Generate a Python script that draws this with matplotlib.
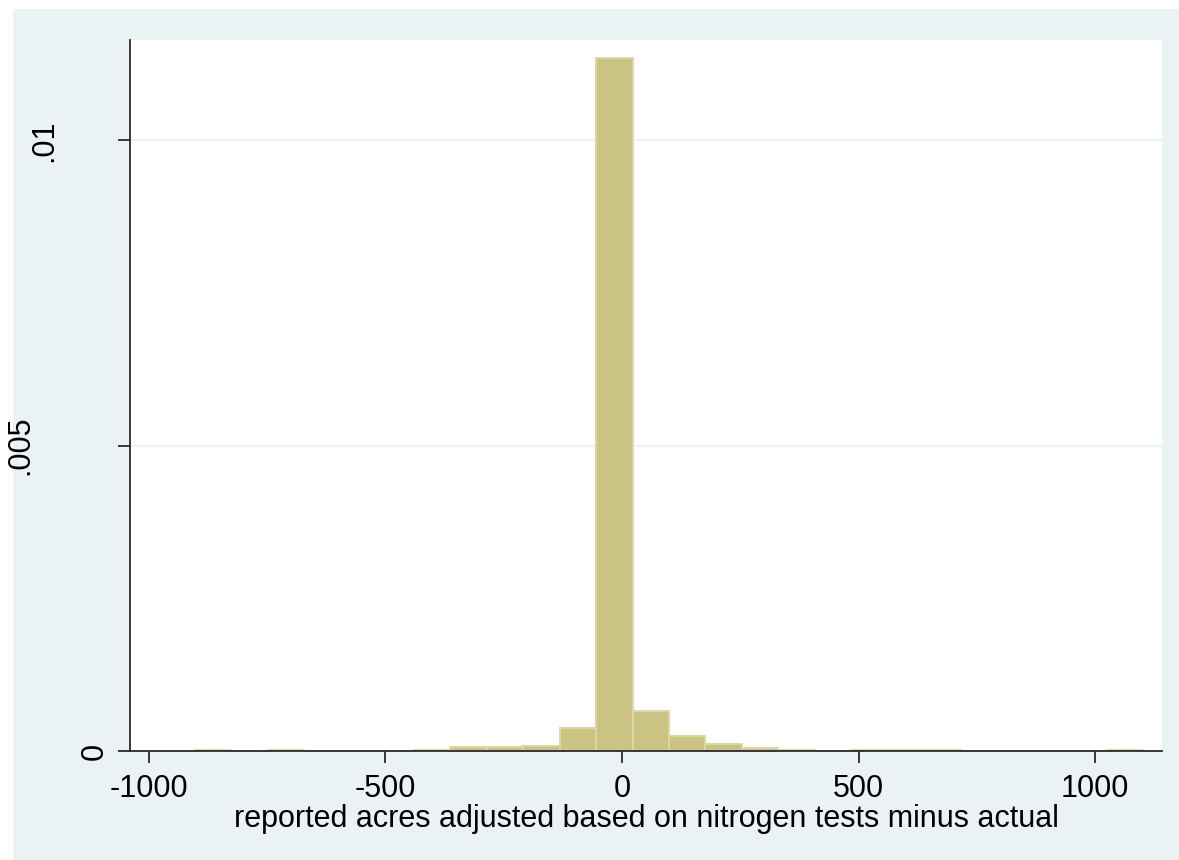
import matplotlib
matplotlib.use("Agg")
import matplotlib.pyplot as plt
from matplotlib.patches import Rectangle
import matplotlib.transforms as mtransforms

# ---- data ----
bin_start = -902.0
bin_width = 77.04
density = [0.00002, 0.0, 0.00002, 0.0, 0.0, 0.0, 0.00002, 0.00006, 0.00006,
           0.00009, 0.00037, 0.01135, 0.00066, 0.00024, 0.00011, 0.00005,
           0.00002, 0.0, 0.00002, 0.00002, 0.00002, 0.0, 0.0, 0.0, 0.0, 0.00002]
xtick_values = [-1000, -500, 0, 500, 1000]
xtick_labels = ["-1000", "-500", "0", "500", "1000"]
ytick_values = [0, 0.005, 0.01]
ytick_labels = ["0", ".005", ".01"]
x_title = "reported acres adjusted based on nitrogen tests minus actual"

# ---- style ----
W, H = 1179, 860
BG = "#EAF2F3"
FILL = "#CBC383"
EDGE = "#DCD7A8"
AXC = "#2a2a2a"
FONT = "Liberation Sans"
FS = 22
ylabel_xpx = {"0": 95, ".005": 20, ".01": 44}

plt.rcParams["font.family"] = [FONT, "DejaVu Sans"]

fig = plt.figure(figsize=(W / 100, H / 100), dpi=100, facecolor=BG)
# white strips along the top and left edges
fig.patches.append(Rectangle((0, 0), 13 / W, 1, transform=fig.transFigure,
                             facecolor="white", edgecolor="none", zorder=-10))
fig.patches.append(Rectangle((0, (H - 9) / H), 1, 9 / H, transform=fig.transFigure,
                             facecolor="white", edgecolor="none", zorder=-10))

ax = fig.add_axes([130 / W, 109 / H, 1032 / W, 711 / H])
ax.set_zorder(1)
ax.set_facecolor("white")
ax.set_xlim(-1039.3, 1141.1)
ax.set_ylim(0, 0.011644)

lefts = [bin_start + bin_width * i for i in range(len(density))]
ax.bar(lefts, density, width=bin_width, align="edge", color=FILL,
       edgecolor=EDGE, linewidth=1.4, zorder=3)

for yv in ytick_values[1:]:
    ax.axhline(yv, color=BG, linewidth=1.6, zorder=1)

for s in ["top", "right"]:
    ax.spines[s].set_visible(False)
for s in ["left", "bottom"]:
    ax.spines[s].set_color(AXC)
    ax.spines[s].set_linewidth(1.3)
    ax.spines[s].set_zorder(4)

ax.set_xticks(xtick_values)
ax.set_xticklabels(xtick_labels, fontsize=FS, color="black")
ax.tick_params(axis="x", length=8.6, width=1.3, color=AXC, pad=8)

ax.set_yticks(ytick_values)
ax.set_yticklabels([""] * len(ytick_values))
ax.tick_params(axis="y", length=8.6, width=1.3, color=AXC)
trans = mtransforms.blended_transform_factory(fig.transFigure, ax.transData)
for v, lab in zip(ytick_values, ytick_labels):
    fig.text(ylabel_xpx[lab] / W, v, lab, transform=trans, rotation=90,
             ha="center", va="center", fontsize=FS, color="black")

ax.set_xlabel(x_title, fontsize=FS, color="black", labelpad=0)

fig.savefig("out.png", dpi=100, facecolor=fig.get_facecolor())
